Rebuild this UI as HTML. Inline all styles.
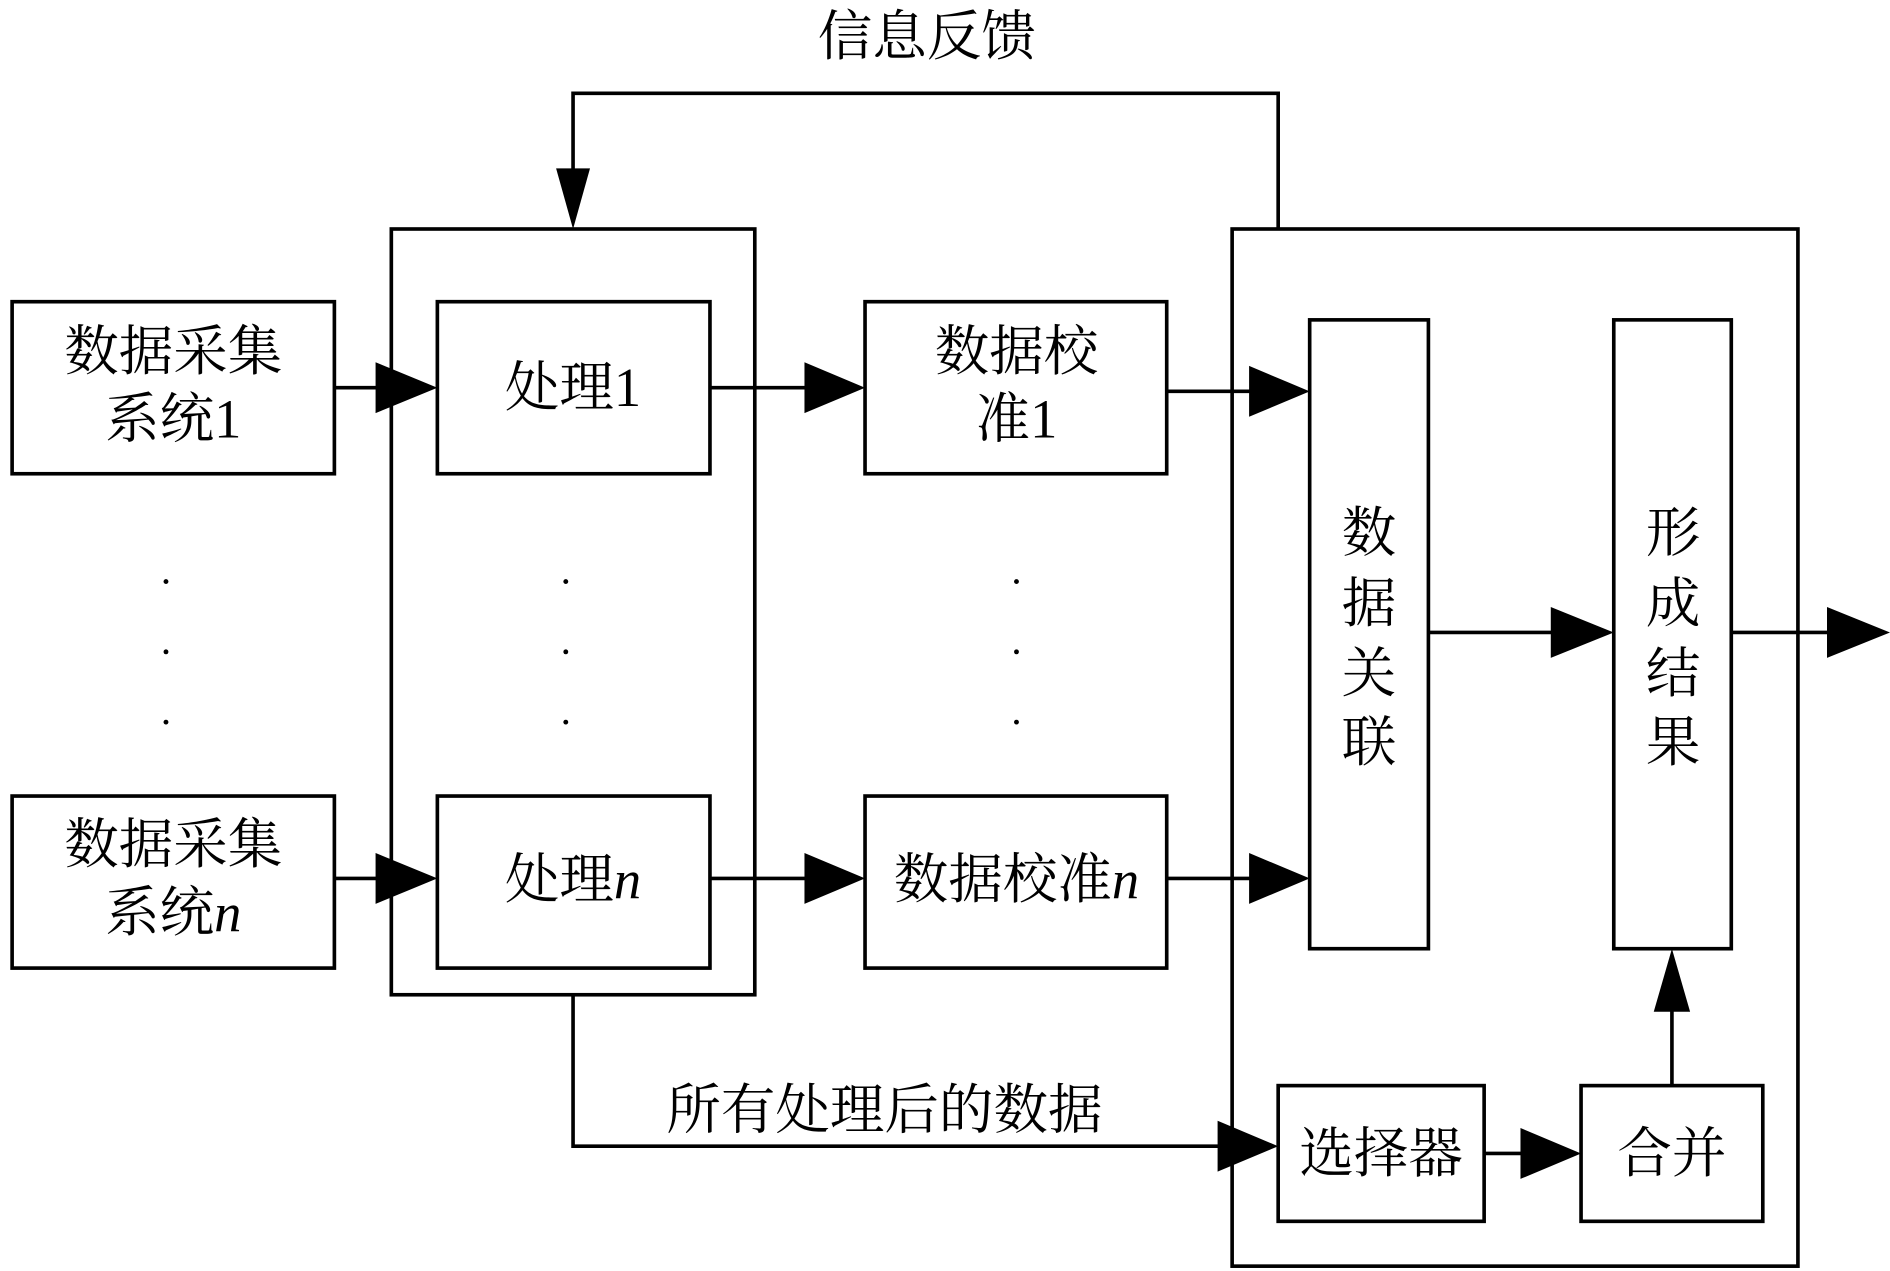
<!DOCTYPE html>
<html><head><meta charset="utf-8"><style>
html,body{margin:0;padding:0;background:#fff;}
svg{display:block;}
text{font-family:"Liberation Serif","Noto Serif CJK SC",serif;fill:#000;}
</style></head><body>
<svg width="1890" height="1271" viewBox="0 0 1560 1049" preserveAspectRatio="none" xmlns="http://www.w3.org/2000/svg">
<g fill="none" stroke="#000" stroke-width="3">
<rect x="323" y="189" width="300" height="632"/>
<rect x="1017" y="189" width="467" height="856"/>
<rect x="10" y="249" width="266" height="142"/>
<rect x="10" y="657" width="266" height="142"/>
<rect x="361" y="249" width="225" height="142"/>
<rect x="361" y="657" width="225" height="142"/>
<rect x="714" y="249" width="249" height="142"/>
<rect x="714" y="657" width="249" height="142"/>
<rect x="1081" y="264" width="98" height="519"/>
<rect x="1332" y="264" width="97" height="519"/>
<rect x="1055" y="896" width="170" height="112"/>
<rect x="1305" y="896" width="150" height="112"/>
<polyline points="1055,189 1055,77 473,77 473,150"/>
<polyline points="473,821 473,946 1010,946"/>
<line x1="276" y1="320" x2="315" y2="320"/>
<line x1="276" y1="725" x2="315" y2="725"/>
<line x1="586" y1="320" x2="668" y2="320"/>
<line x1="586" y1="725" x2="668" y2="725"/>
<line x1="963" y1="323" x2="1034" y2="323"/>
<line x1="963" y1="725" x2="1034" y2="725"/>
<line x1="1179" y1="522" x2="1285" y2="522"/>
<line x1="1429" y1="522" x2="1512" y2="522"/>
<line x1="1225" y1="952" x2="1258" y2="952"/>
<line x1="1380" y1="896" x2="1380" y2="830"/>
</g>
<g fill="#000">
<polygon points="473,189 459,139 487,139"/>
<polygon points="361,320 310,299 310,341"/>
<polygon points="361,725 310,704 310,746"/>
<polygon points="714,320 664,299 664,341"/>
<polygon points="714,725 664,704 664,746"/>
<polygon points="1081,323 1031,302 1031,344"/>
<polygon points="1081,725 1031,704 1031,746"/>
<polygon points="1332,522 1280,501 1280,543"/>
<polygon points="1560,522 1508,501 1508,543"/>
<polygon points="1055,946 1005,925 1005,967"/>
<polygon points="1305,952 1255,931 1255,973"/>
<polygon points="1380,783 1365,835 1395,835"/>
<circle cx="137" cy="480" r="2"/><circle cx="137" cy="538" r="2"/><circle cx="137" cy="596" r="2"/>
<circle cx="467" cy="480" r="2"/><circle cx="467" cy="538" r="2"/><circle cx="467" cy="596" r="2"/>
<circle cx="839" cy="480" r="2"/><circle cx="839" cy="538" r="2"/><circle cx="839" cy="596" r="2"/>
</g>
<g font-size="45" text-anchor="middle" dominant-baseline="central">
<text x="765" y="30">信息反馈</text>
<text x="143" y="290">数据采集</text>
<text x="143" y="346">系统1</text>
<text x="143" y="697">数据采集</text>
<text x="143" y="753">系统<tspan font-style="italic">n</tspan></text>
<text x="473" y="320">处理1</text>
<text x="473" y="726">处理<tspan font-style="italic">n</tspan></text>
<text x="839" y="290">数据校</text>
<text x="839" y="346">准1</text>
<text x="839" y="726">数据校准<tspan font-style="italic">n</tspan></text>
<text x="1130" y="440">数</text><text x="1130" y="498">据</text><text x="1130" y="556">关</text><text x="1130" y="613">联</text>
<text x="1381" y="440">形</text><text x="1381" y="498">成</text><text x="1381" y="556">结</text><text x="1381" y="613">果</text>
<text x="730" y="916">所有处理后的数据</text>
<text x="1140" y="952">选择器</text>
<text x="1380" y="952">合并</text>
</g>
</svg>
</body></html>
